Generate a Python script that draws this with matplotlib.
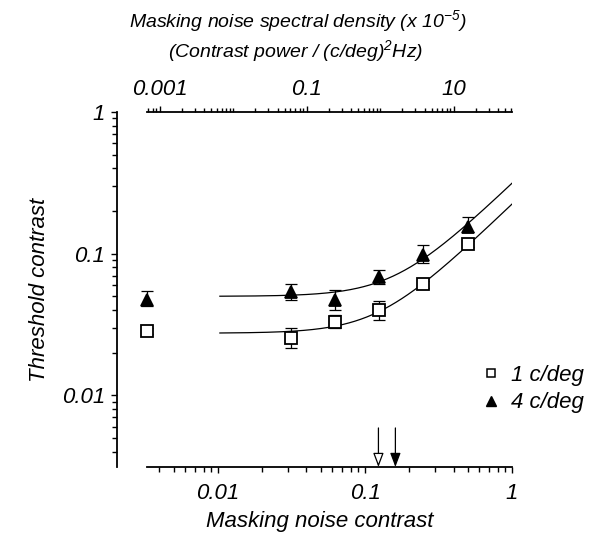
import numpy as np
import matplotlib
matplotlib.use("Agg")
import matplotlib.pyplot as plt
from matplotlib.ticker import FixedLocator, FixedFormatter, NullFormatter
from matplotlib.lines import Line2D

plt.rcParams['font.family'] = ['Liberation Sans', 'DejaVu Sans']
plt.rcParams['font.style'] = 'italic'
plt.rcParams['mathtext.fontset'] = 'custom'
plt.rcParams['mathtext.rm'] = 'Liberation Sans:italic'
plt.rcParams['mathtext.it'] = 'Liberation Sans:italic'
plt.rcParams['mathtext.default'] = 'it'

# ---- data -------------------------------------------------------------
noise_contrast = [0.03125, 0.0625, 0.125, 0.25, 0.5]
no_noise_x = 0.0033          # where the no-noise thresholds are shown

thr_1cpd = [0.0255, 0.0330, 0.0397, 0.0605, 0.117]
lo_1cpd = [0.0217, 0.0297, 0.0337, 0.0575, 0.111]
hi_1cpd = [0.0300, 0.0366, 0.0461, 0.0640, 0.123]
base_1cpd, base_lo_1cpd, base_hi_1cpd = 0.0284, 0.0270, 0.0298

thr_4cpd = [0.0534, 0.0467, 0.0681, 0.0984, 0.155]
lo_4cpd = [0.0470, 0.0401, 0.0612, 0.0860, 0.141]
hi_4cpd = [0.0612, 0.0555, 0.0767, 0.1157, 0.182]
base_4cpd, base_lo_4cpd, base_hi_4cpd = 0.0472, 0.0424, 0.0543

# fitted model: T = sqrt(T0^2 + (s * c)^2)
fit_T0 = {'1 c/deg': 0.0274, '4 c/deg': 0.0499}
fit_slope = {'1 c/deg': 0.222, '4 c/deg': 0.310}

# spectral density (x 1e-5) per squared noise contrast
density_per_c2 = 62.0

x_ticklabels = ['0.01', '0.1', '1']
y_ticklabels = ['0.01', '0.1', '1']
top_ticklabels = ['0.001', '0.1', '10']

# ---- figure -----------------------------------------------------------
fig = plt.figure(figsize=(6.02, 5.35), dpi=100)
ax = fig.add_axes([117 / 602, 1 - 467 / 535, 395 / 602, 355 / 535])
xlim = (0.002056, 1.0)
ylim = (0.00311, 1.0)
ax.set_xscale('log')
ax.set_yscale('log')
ax.set_xlim(*xlim)
ax.set_ylim(*ylim)

lw = 0.9
cs = 4.5
ms_sq = 8.0
ms_tri = 9.0
tick_fs = 16
label_fs = 16
title_fs = 14

# curves
c = np.logspace(np.log10(0.0103), 0, 200)
for key in ['1 c/deg', '4 c/deg']:
    ax.plot(c, np.sqrt(fit_T0[key] ** 2 + (fit_slope[key] * c) ** 2),
            color='black', lw=0.9, zorder=2)

def draw_series(x, y, lo, hi, marker, fc, ms):
    y = np.asarray(y)
    yerr = [y - np.asarray(lo), np.asarray(hi) - y]
    ax.errorbar(x, y, yerr=yerr, fmt='none', ecolor='black', elinewidth=lw,
                capsize=cs, capthick=lw, zorder=3)
    ax.plot(x, y, linestyle='none', marker=marker, ms=ms, mfc=fc,
            mec='black', mew=1.3, zorder=4)

draw_series(noise_contrast + [no_noise_x], thr_1cpd + [base_1cpd],
            lo_1cpd + [base_lo_1cpd], hi_1cpd + [base_hi_1cpd], 's', 'white', ms_sq)
draw_series(noise_contrast + [no_noise_x], thr_4cpd + [base_4cpd],
            lo_4cpd + [base_lo_4cpd], hi_4cpd + [base_hi_4cpd], '^', 'black', ms_tri)

# arrows at the equivalent-noise contrasts
for key, fc in [('1 c/deg', 'white'), ('4 c/deg', 'black')]:
    xc = fit_T0[key] / fit_slope[key]
    ax.annotate('', xy=(xc, 0.0), xycoords=('data', 'axes fraction'),
                xytext=(xc, 0.11), textcoords=('data', 'axes fraction'),
                arrowprops=dict(arrowstyle='-|>,head_length=0.85,head_width=0.32',
                                mutation_scale=10, fc=fc, ec='black', lw=0.9,
                                shrinkA=0, shrinkB=0),
                zorder=5, annotation_clip=False)

# spines
for s in ['top', 'right']:
    ax.spines[s].set_visible(False)
ax.spines['left'].set_linewidth(1.3)
ax.spines['bottom'].set_linewidth(1.3)
ax.spines['bottom'].set_bounds(no_noise_x, xlim[1])

# bottom ticks
xmaj = [0.01, 0.1, 1.0]
xmin = [m * d for d in [0.001, 0.01, 0.1] for m in range(2, 10) if 0.0038 < m * d < 1]
ax.xaxis.set_major_locator(FixedLocator(xmaj))
ax.xaxis.set_major_formatter(FixedFormatter(x_ticklabels))
ax.xaxis.set_minor_locator(FixedLocator(xmin))
ax.xaxis.set_minor_formatter(NullFormatter())
ax.tick_params(axis='x', which='major', direction='out', length=4.5, width=1.0,
               pad=7, labelsize=tick_fs)
ax.tick_params(axis='x', which='minor', direction='out', length=3.5, width=1.0)

# left ticks
ymaj = [0.01, 0.1, 1.0]
ymin = [m * d for d in [0.001, 0.01, 0.1] for m in range(2, 10) if 0.0031 < m * d < 1]
ax.yaxis.set_major_locator(FixedLocator(ymaj))
ax.yaxis.set_major_formatter(FixedFormatter(y_ticklabels))
ax.yaxis.set_minor_locator(FixedLocator(ymin))
ax.yaxis.set_minor_formatter(NullFormatter())
ax.tick_params(axis='y', which='major', direction='out', length=4.5, width=1.0,
               pad=4, labelsize=tick_fs)
ax.tick_params(axis='y', which='minor', direction='out', length=3.5, width=1.0)

# top axis: spectral density
ax2 = ax.twiny()
ax2.set_xscale('log')
ax2.set_xlim(density_per_c2 * xlim[0] ** 2, density_per_c2 * xlim[1] ** 2)
for s in ['left', 'right', 'bottom']:
    ax2.spines[s].set_visible(False)
ax2.spines['top'].set_linewidth(1.3)
top_lo = density_per_c2 * no_noise_x ** 2
top_hi = density_per_c2 * xlim[1] ** 2
ax2.spines['top'].set_bounds(top_lo, top_hi)
tmin = [m * d for d in [1e-4, 1e-3, 1e-2, 1e-1, 1.0, 10.0] for m in range(2, 10)
        if top_lo < m * d < top_hi]
ax2.xaxis.set_major_locator(FixedLocator([1e-3, 1e-1, 10.0]))
ax2.xaxis.set_major_formatter(FixedFormatter(top_ticklabels))
ax2.xaxis.set_minor_locator(FixedLocator(tmin + [1e-2, 1.0]))
ax2.xaxis.set_minor_formatter(NullFormatter())
ax2.tick_params(axis='x', which='major', direction='out', length=4, width=1.0,
                pad=5, labelsize=tick_fs)
ax2.tick_params(axis='x', which='minor', direction='out', length=3, width=1.0)

# axis titles
fig.text(320 / 602, 1 - 521 / 535, 'Masking noise contrast', ha='center',
         va='center', fontsize=label_fs)
fig.text(40 / 602, 1 - 290 / 535, 'Threshold contrast', ha='center',
         va='center', rotation=90, fontsize=label_fs)
fig.text(298 / 602, 1 - 21 / 535, r'Masking noise spectral density (x 10$^{-5}$)',
         ha='center', va='center', fontsize=title_fs)
fig.text(296 / 602, 1 - 51 / 535, r'(Contrast power / (c/deg)$^{2}$Hz)',
         ha='center', va='center', fontsize=title_fs)

# legend
handles = [Line2D([], [], ls='none', marker='s', ms=6, mfc='white', mec='black', mew=1.1),
           Line2D([], [], ls='none', marker='^', ms=7, mfc='black', mec='black')]
fig.legend(handles, ['1 c/deg', '4 c/deg'], loc='center left',
           bbox_to_anchor=(482 / 602, 1 - 389 / 535), frameon=False,
           handlelength=0.8, handletextpad=0.5, labelspacing=0.3, fontsize=tick_fs,
           borderaxespad=0, borderpad=0)

fig.savefig('out.png', dpi=100)
